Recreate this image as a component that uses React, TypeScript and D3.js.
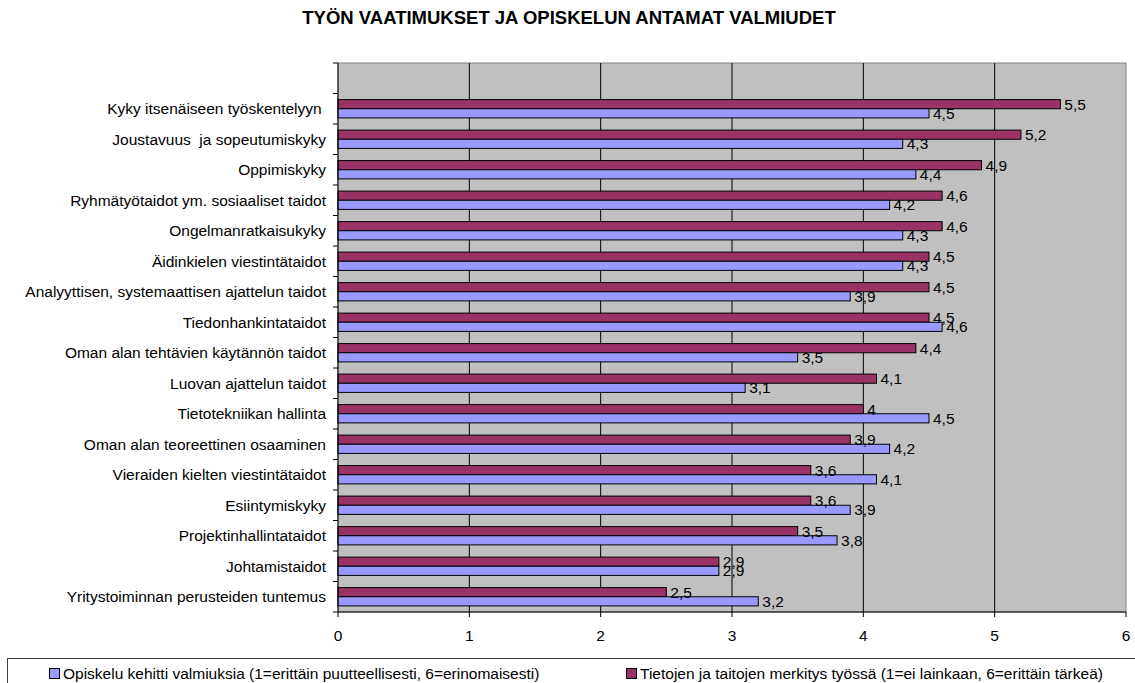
import React from "react";
import * as d3 from "d3";

const categories = [
  "Kyky itsenäiseen työskentelyyn ",
  "Joustavuus  ja sopeutumiskyky",
  "Oppimiskyky",
  "Ryhmätyötaidot ym. sosiaaliset taidot",
  "Ongelmanratkaisukyky",
  "Äidinkielen viestintätaidot",
  "Analyyttisen, systemaattisen ajattelun taidot",
  "Tiedonhankintataidot",
  "Oman alan tehtävien käytännön taidot",
  "Luovan ajattelun taidot",
  "Tietotekniikan hallinta",
  "Oman alan teoreettinen osaaminen",
  "Vieraiden kielten viestintätaidot",
  "Esiintymiskyky",
  "Projektinhallintataidot",
  "Johtamistaidot",
  "Yritystoiminnan perusteiden tuntemus",
];

const opiskelu = [4.5, 4.3, 4.4, 4.2, 4.3, 4.3, 3.9, 4.6, 3.5, 3.1, 4.5, 4.2, 4.1, 3.9, 3.8, 2.9, 3.2];
const merkitys = [5.5, 5.2, 4.9, 4.6, 4.6, 4.5, 4.5, 4.5, 4.4, 4.1, 4.0, 3.9, 3.6, 3.6, 3.5, 2.9, 2.5];

const xTicks = [0, 1, 2, 3, 4, 5, 6];

const seriesNames = [
  "Opiskelu kehitti valmiuksia (1=erittäin puutteellisesti, 6=erinomaisesti)",
  "Tietojen ja taitojen merkitys työssä (1=ei lainkaan, 6=erittäin tärkeä)",
];

const BLUE = "#9999FF";
const MAROON = "#993366";
const FONT = "Arial, 'Liberation Sans', sans-serif";
const FS = 15.5;

export default function App() {
  const width = 1135;
  const height = 683;
  const margin = { top: 63, right: 9, bottom: 71, left: 338 };

  const x = d3.scaleLinear().domain([0, 6]).range([margin.left, width - margin.right]);
  // leading blank slot, as in the original chart
  const y = d3
    .scaleBand()
    .domain(["__blank", ...categories])
    .range([margin.top, height - margin.bottom]);
  const bw = y.bandwidth();
  const barH = bw * 0.3;
  const fmt = (v: number) => String(v).replace(".", ",");

  const rows = categories.map((c, i) => ({ c, o: opiskelu[i], m: merkitys[i] }));
  const plotBottom = height - margin.bottom;

  return (
    <svg
      width={width}
      height={height}
      style={{ position: "absolute", left: 0, top: 0, fontFamily: FONT }}
    >
      <rect width={width} height={height} fill="#fff" />
      <text x={569} y={18} dy="0.35em" textAnchor="middle" fontSize={18.5} fontWeight="bold">
        TYÖN VAATIMUKSET JA OPISKELUN ANTAMAT VALMIUDET
      </text>

      <rect
        x={x(0)}
        y={margin.top}
        width={x(6) - x(0)}
        height={plotBottom - margin.top}
        fill="#C0C0C0"
        stroke="#808080"
      />
      {xTicks.slice(1, -1).map((t) => (
        <line key={t} x1={x(t)} x2={x(t)} y1={margin.top} y2={plotBottom} stroke="#000" />
      ))}

      {rows.map((r) => {
        const y0 = y(r.c)! + (bw - 2 * barH) / 2;
        return (
          <g key={r.c}>
            <rect x={x(0)} y={y0} width={x(r.m) - x(0)} height={barH} fill={MAROON} stroke="#000" />
            <rect x={x(0)} y={y0 + barH} width={x(r.o) - x(0)} height={barH} fill={BLUE} stroke="#000" />
            <text x={x(r.m) + 4} y={y0 + barH / 2} dy="0.35em" fontSize={FS}>
              {fmt(r.m)}
            </text>
            <text x={x(r.o) + 4} y={y0 + barH * 1.5} dy="0.35em" fontSize={FS}>
              {fmt(r.o)}
            </text>
            <text
              x={326}
              y={y(r.c)! + bw / 2}
              dy="0.35em"
              textAnchor="end"
              fontSize={FS}
              style={{ whiteSpace: "pre" }}
            >
              {r.c}
            </text>
          </g>
        );
      })}

      {/* left axis */}
      <line x1={x(0)} x2={x(0)} y1={margin.top} y2={plotBottom} stroke="#000" />
      {y.domain().map((d) => (
        <line key={d} x1={x(0) - 5} x2={x(0)} y1={y(d)!} y2={y(d)!} stroke="#000" />
      ))}
      <line x1={x(0) - 5} x2={x(0)} y1={plotBottom} y2={plotBottom} stroke="#000" />

      {/* bottom axis */}
      <line x1={x(0)} x2={x(6)} y1={plotBottom} y2={plotBottom} stroke="#000" />
      {xTicks.map((t) => (
        <g key={t}>
          <line x1={x(t)} x2={x(t)} y1={plotBottom} y2={plotBottom + 5} stroke="#000" />
          <text x={x(t)} y={plotBottom + 24} dy="0.35em" textAnchor="middle" fontSize={FS}>
            {t}
          </text>
        </g>
      ))}

      {/* legend */}
      <rect x={7.5} y={658.5} width={1140} height={40} fill="#fff" stroke="#404040" />
      {seriesNames.map((s, i) => {
        const lx = i === 0 ? 49 : 626;
        return (
          <g key={s}>
            <rect x={lx + 0.5} y={668.5} width={10} height={10} fill={i === 0 ? BLUE : MAROON} stroke="#000" />
            <text x={lx + 14} y={674} dy="0.35em" fontSize={FS}>
              {s}
            </text>
          </g>
        );
      })}
    </svg>
  );
}
